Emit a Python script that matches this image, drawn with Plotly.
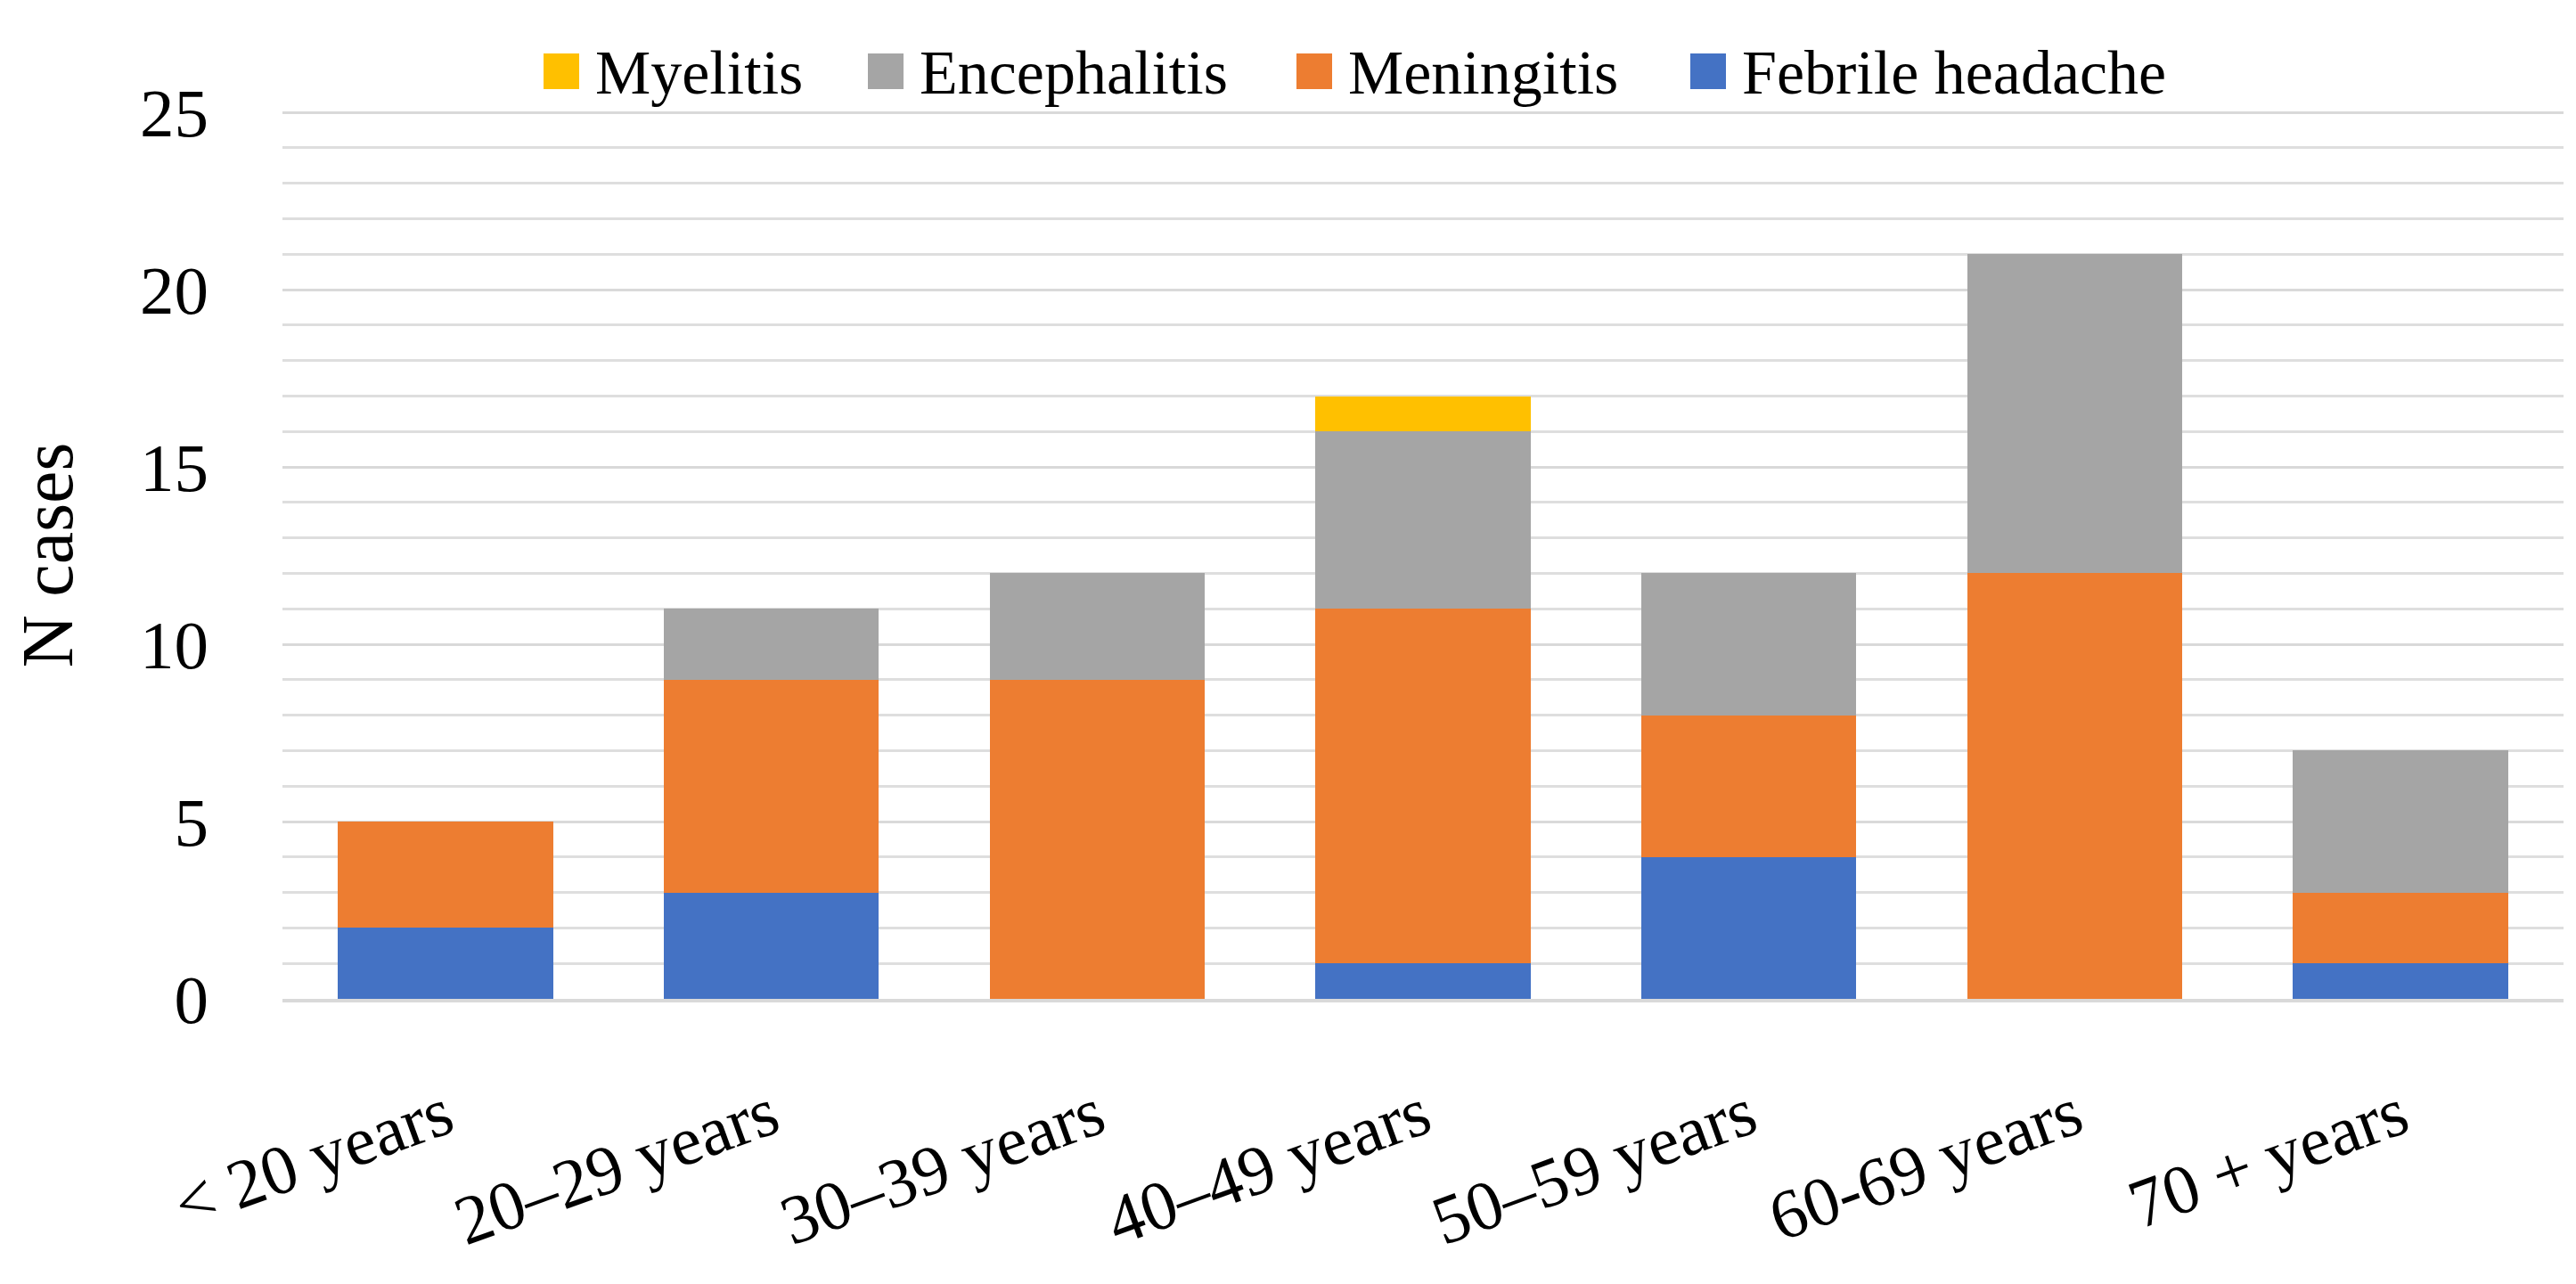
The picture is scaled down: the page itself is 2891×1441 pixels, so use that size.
import plotly.graph_objects as go

categories = ["< 20 years", "20–29 years", "30–39 years", "40–49 years", "50–59 years", "60-69 years", "70 + years"]
febrile_headache = [2, 3, 0, 1, 4, 0, 1]
meningitis = [3, 6, 9, 10, 4, 12, 2]
encephalitis = [0, 2, 3, 5, 4, 9, 4]
myelitis = [0, 0, 0, 1, 0, 0, 0]

series_names = ["Febrile headache", "Meningitis", "Encephalitis", "Myelitis"]
series_values = [febrile_headache, meningitis, encephalitis, myelitis]
series_colors = ["#4472C4", "#ED7D31", "#A5A5A5", "#FFC000"]

FONT = "Liberation Serif"
W, H = 2891, 1441
OFF = 8  # page body margin of the html page
L, R, T, B = 317 - OFF, 14 + OFF, 125 - OFF, 320 + OFF
PW, PH = W - L - R, H - T - B


def px_to_paper_x(px):
    return (px - OFF - L) / PW


def px_to_paper_y(py):
    return 1 - (py - OFF - T) / PH


fig = go.Figure()
for name, vals, col in zip(series_names, series_values, series_colors):
    fig.add_trace(go.Bar(x=categories, y=vals, name=name, marker_color=col,
                         marker_line_width=0, showlegend=False))

# custom legend with large square swatches, in reversed (top-of-stack first) order
legend_box_px = [610, 974, 1455, 1897]
box = 40
cy = 80
for (name, col), bx in zip(list(zip(series_names, series_colors))[::-1], legend_box_px):
    fig.add_shape(type="rect", xref="paper", yref="paper",
                  x0=px_to_paper_x(bx), x1=px_to_paper_x(bx + box),
                  y0=px_to_paper_y(cy + box / 2), y1=px_to_paper_y(cy - box / 2),
                  fillcolor=col, line_width=0)
    fig.add_annotation(xref="paper", yref="paper", x=px_to_paper_x(bx + box + 16),
                       y=px_to_paper_y(cy + 2), xanchor="left", yanchor="middle",
                       showarrow=False, text=name,
                       font=dict(family=FONT, size=70, color="black"))

fig.update_layout(
    width=W, height=H,
    barmode="stack", bargap=0.34,
    plot_bgcolor="white", paper_bgcolor="white",
    margin=dict(l=L, r=R, t=T, b=B),
    font=dict(family=FONT, color="black"),
    showlegend=False,
    xaxis=dict(tickangle=-20, tickfont=dict(size=78), showline=True, linecolor="#d9d9d9",
               linewidth=4, ticks="", automargin=False, ticklabelstandoff=52),
    yaxis=dict(range=[0, 25.03], tickvals=[0, 5, 10, 15, 20, 25], tickfont=dict(size=77),
               showgrid=True, gridcolor="#d9d9d9", gridwidth=3, zeroline=False,
               minor=dict(dtick=1, showgrid=True, gridcolor="#dedede", gridwidth=3),
               ticklabelstandoff=82, automargin=False,
               title=dict(text="N cases", font=dict(size=82), standoff=50)),
)

fig.write_html("out.html")
